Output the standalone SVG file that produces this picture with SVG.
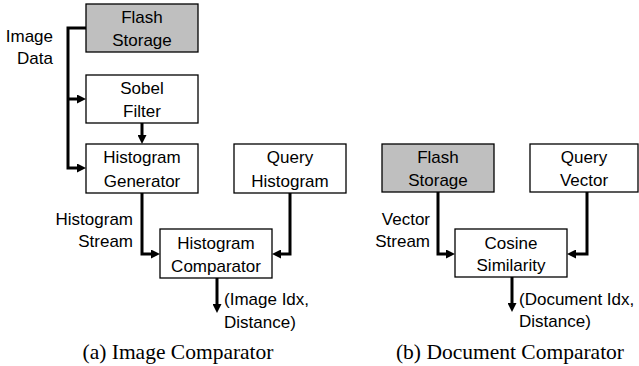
<svg xmlns="http://www.w3.org/2000/svg" width="639" height="366" viewBox="0 0 639 366">
<style>
.box{fill:#ffffff;stroke:#000;stroke-width:1.3}
.gray{fill:#bfbfbf}
.t{font-family:"Liberation Sans",Arial,sans-serif;font-size:17px;fill:#000}
.c{text-anchor:middle}
.e{text-anchor:end}
.cap{font-family:"Liberation Serif","Times New Roman",serif;font-size:21.5px;fill:#000;text-anchor:middle}
.conn path{fill:none;stroke:#000;stroke-width:3;marker-end:url(#ah)}
</style>
<defs>
<marker id="ah" viewBox="0 0 9 9" refX="4" refY="4.5" markerWidth="9" markerHeight="9" markerUnits="userSpaceOnUse" orient="auto">
<path d="M0,0 L9,4.5 L0,9 z" fill="#000"/>
</marker>
</defs>
<rect width="639" height="366" fill="#fff"/>
<g id="connectors" class="conn">
<path d="M86,28 H68 V168 H81"/>
<path d="M68,99 H81"/>
<path d="M142,123 V139"/>
<path d="M142,193 V254 H155"/>
<path d="M290,193 V254 H277"/>
<path d="M217,278 V308"/>
<path d="M438,192 V254 H450"/>
<path d="M587,192 V254 H572"/>
<path d="M512,277 V307"/>
</g>
<g id="flash-storage-a"><rect class="box gray" x="86" y="4" width="112" height="48"/><text class="t c" x="142" y="23">Flash</text><text class="t c" x="142" y="46">Storage</text></g>
<g id="sobel-filter"><rect class="box" x="86" y="75" width="112" height="48"/><text class="t c" x="142" y="94">Sobel</text><text class="t c" x="142" y="117">Filter</text></g>
<g id="histogram-generator"><rect class="box" x="86" y="144" width="112" height="49"/><text class="t c" x="142" y="163">Histogram</text><text class="t c" x="142" y="187">Generator</text></g>
<g id="query-histogram"><rect class="box" x="234" y="144" width="112" height="49"/><text class="t c" x="290" y="163">Query</text><text class="t c" x="290" y="187">Histogram</text></g>
<g id="histogram-comparator"><rect class="box" x="160" y="229" width="112" height="49"/><text class="t c" x="216" y="249">Histogram</text><text class="t c" x="216" y="272">Comparator</text></g>
<g id="flash-storage-b"><rect class="box gray" x="382" y="144" width="112" height="48"/><text class="t c" x="438" y="163">Flash</text><text class="t c" x="438" y="186">Storage</text></g>
<g id="query-vector"><rect class="box" x="530" y="144" width="108" height="48"/><text class="t c" x="584" y="163">Query</text><text class="t c" x="584" y="186">Vector</text></g>
<g id="cosine-similarity"><rect class="box" x="455" y="229" width="112" height="48"/><text class="t c" x="511" y="249">Cosine</text><text class="t c" x="511" y="271">Similarity</text></g>
<g id="labels">
<text class="t e" x="53" y="42">Image</text><text class="t e" x="53" y="64">Data</text>
<text class="t e" x="133" y="225">Histogram</text><text class="t e" x="133" y="247">Stream</text>
<text class="t" x="224" y="305">(Image Idx,</text><text class="t" x="224" y="328">Distance)</text>
<text class="t e" x="430" y="225">Vector</text><text class="t e" x="430" y="247">Stream</text>
<text class="t" x="519" y="305">(Document Idx,</text><text class="t" x="519" y="327">Distance)</text>
<text class="cap" x="178" y="359">(a) Image Comparator</text>
<text class="cap" x="510" y="359">(b) Document Comparator</text>
</g>
</svg>
